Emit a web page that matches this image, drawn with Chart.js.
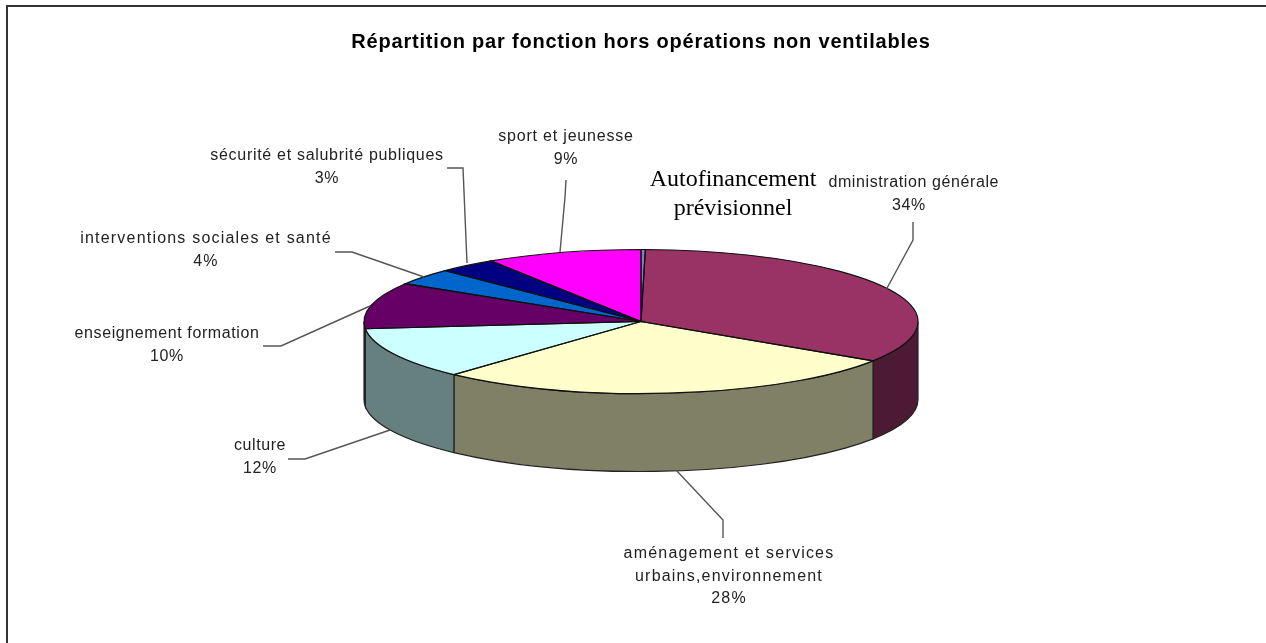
<!DOCTYPE html>
<html>
<head>
<meta charset="utf-8">
<script src="https://cdn.jsdelivr.net/npm/chart.js@4"></script>
<style>
  html,body{margin:0;padding:0;background:#fff;overflow:hidden}
  #wrap{position:relative;width:1266px;height:643px}
  #frame{position:absolute;left:6px;top:5px;right:0;bottom:0;border-left:2px solid #333;border-top:2px solid #333}
  canvas{position:absolute;left:0;top:0}
</style>
</head>
<body>
<div id="wrap">
  <div id="frame"></div>
  <canvas id="pie" width="1266" height="643"></canvas>
</div>
<script>
const titleText = 'Répartition par fonction hors opérations non ventilables';
const categories = ['Autofinancement prévisionnel','administration générale','aménagement et services urbains,environnement','culture','enseignement formation','interventions sociales et santé','sécurité et salubrité publiques','sport et jeunesse'];
const values = [0.25,33.95,27.6,11.6,10.4,3.7,3.4,9.1];
const percentLabels = ['','34%','28%','12%','10%','4%','3%','9%'];
const topColors = ['#8080c0','#993366','#ffffcc','#ccffff','#660066','#0066cc','#000080','#ff00ff'];
const wallColors = ['#404060','#4d1a33','#808066','#668080','#330033','#003366','#000040','#800080'];

// label lines: text centre x, first line y, letter spacing
const labelLayout = [
  null,
  {x:909,y:183,sp:0.6,lines:['administration générale','34%']},
  {x:729,y:554,sp:1.2,lines:['aménagement et services','urbains,environnement','28%']},
  {x:260,y:446,sp:0.6,lines:['culture','12%']},
  {x:167,y:334,sp:0.6,lines:['enseignement formation','10%']},
  {x:206,y:239,sp:1.2,lines:['interventions sociales et santé','4%']},
  {x:327,y:156,sp:0.7,lines:['sécurité et salubrité publiques','3%']},
  {x:566,y:137,sp:0.8,lines:['sport et jeunesse','9%']}
];
const leaders = [
  null,
  [[913,222],[913,240],[886,290]],
  [[723,538],[723,520],[676,470]],
  [[288,459],[305,459],[390,430]],
  [[263,346],[281,346],[370,306]],
  [[335,252],[352,252],[424,277]],
  [[447,168],[463,168],[467,263]],
  [[566,180],[565,197],[560,252]]
];

const SQUASH = 72/277;
const DEPTH = 78;

const pie3d = {
  id:'pie3d',
  beforeDraw(chart){
    // the title plugin has no letter spacing option, it picks this up from the context
    chart.ctx.letterSpacing = '0.8px';
  },
  beforeDatasetsDraw(chart){
    const ctx = chart.ctx;
    ctx.letterSpacing = '0px';
    const arcs = chart.getDatasetMeta(0).data;
    // side wall, only the front half of the disc shows
    arcs.forEach((arc,i)=>{
      const a = Math.max(arc.startAngle,0), b = Math.min(arc.endAngle,Math.PI);
      if(b<=a) return;
      const rx = arc.outerRadius, ry = rx*SQUASH;
      ctx.beginPath();
      ctx.ellipse(arc.x,arc.y,rx,ry,0,a,b);
      ctx.ellipse(arc.x,arc.y+DEPTH,rx,ry,0,b,a,true);
      ctx.closePath();
      ctx.fillStyle = wallColors[i];
      ctx.fill();
      ctx.lineWidth = 1.2;
      ctx.strokeStyle = '#222';
      ctx.stroke();
    });
    // squash the library's own slices into the top face
    const c = arcs[0];
    ctx.save();
    ctx.translate(c.x,c.y);
    ctx.scale(1,SQUASH);
    ctx.translate(-c.x,-c.y);
  },
  afterDatasetsDraw(chart){
    const ctx = chart.ctx;
    ctx.restore();
    const arcs = chart.getDatasetMeta(0).data;
    arcs.forEach(arc=>{
      const rx = arc.outerRadius, ry = rx*SQUASH;
      ctx.beginPath();
      ctx.moveTo(arc.x,arc.y);
      ctx.ellipse(arc.x,arc.y,rx,ry,0,arc.startAngle,arc.endAngle);
      ctx.closePath();
      ctx.lineWidth = 1.2;
      ctx.strokeStyle = '#111';
      ctx.stroke();
    });
  },
  afterDraw(chart){
    const ctx = chart.ctx;
    ctx.save();
    ctx.strokeStyle = '#555';
    ctx.lineWidth = 1.4;
    leaders.forEach(pts=>{
      if(!pts) return;
      ctx.beginPath();
      pts.forEach((p,i)=> i ? ctx.lineTo(p[0],p[1]) : ctx.moveTo(p[0],p[1]));
      ctx.stroke();
    });
    ctx.fillStyle = '#222';
    ctx.font = '16px "Liberation Sans"';
    ctx.textAlign = 'center';
    ctx.textBaseline = 'middle';
    labelLayout.forEach(l=>{
      if(!l) return;
      ctx.letterSpacing = l.sp+'px';
      l.lines.forEach((t,i)=>ctx.fillText(t,l.x,l.y+i*22.5));
    });
    // text box pasted over the chart, hides the first letter of the label beside it
    ctx.letterSpacing = '0px';
    ctx.fillStyle = '#fff';
    ctx.fillRect(645,165,184,60);
    ctx.fillStyle = '#000';
    ctx.font = '24px "Liberation Serif"';
    ctx.fillText('Autofinancement',733,180);
    ctx.fillText('prévisionnel',733,209);
    ctx.restore();
  }
};

new Chart(document.getElementById('pie'),{
  type:'pie',
  data:{
    labels:categories,
    datasets:[{data:values,backgroundColor:topColors,borderWidth:0}]
  },
  options:{
    responsive:false,
    animation:false,
    radius:277,
    layout:{padding:{left:16,bottom:54}},
    plugins:{
      legend:{display:false},
      tooltip:{enabled:false},
      title:{
        display:true,
        text:titleText,
        color:'#000',
        font:{family:'"Liberation Sans"',size:20,weight:'bold'},
        padding:{top:30,bottom:0}
      }
    }
  },
  plugins:[pie3d]
});
</script>
</body>
</html>
